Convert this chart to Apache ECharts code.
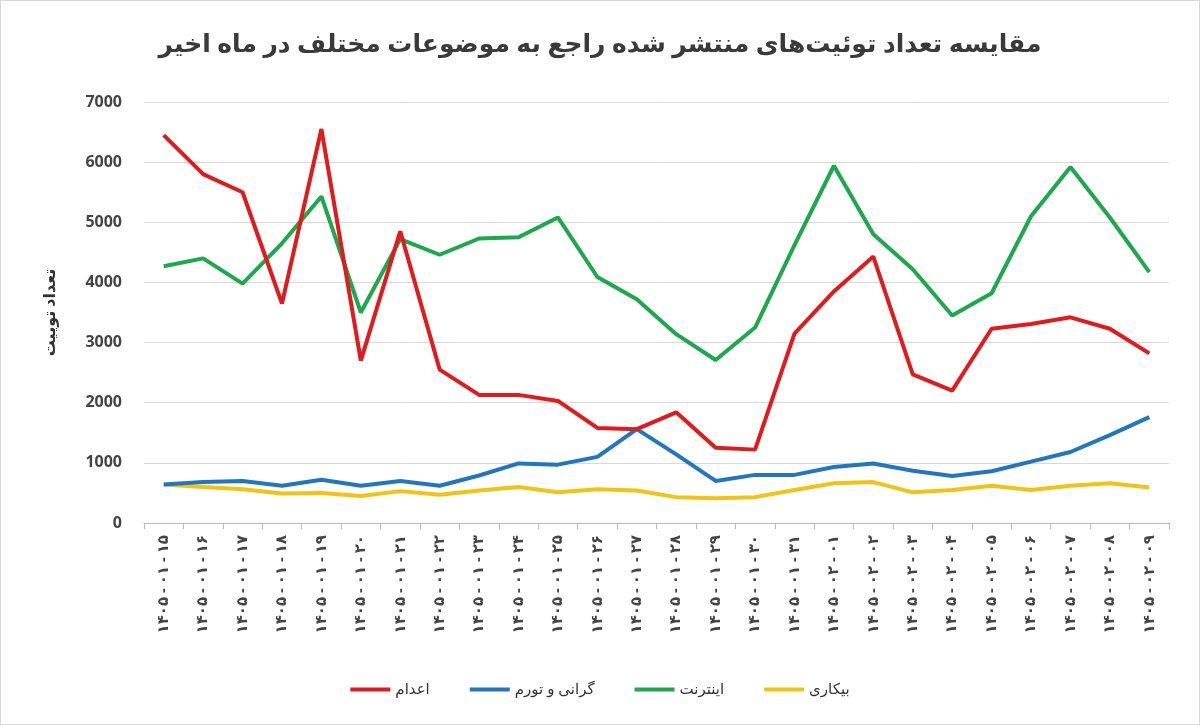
<!DOCTYPE html><html><head><meta charset="utf-8"><script src="https://cdn.jsdelivr.net/npm/echarts@6/dist/echarts.min.js"></script>
<style>html,body{margin:0;background:#fff}#c{width:1200px;height:725px;box-sizing:border-box;border:1px solid #d9d9d9}</style></head><body><div id="c"></div><script>
const days=['۱۵','۱۶','۱۷','۱۸','۱۹','۲۰','۲۱','۲۲','۲۳','۲۴','۲۵','۲۶','۲۷','۲۸','۲۹','۳۰','۳۱'];
const days2=['۰۱','۰۲','۰۳','۰۴','۰۵','۰۶','۰۷','۰۸','۰۹'];
const categories=days.map(d=>'۱۴۰۵-۰۱-'+d).concat(days2.map(d=>'۱۴۰۵-۰۲-'+d));
const executions=[6450,5800,5500,3650,6550,2700,4850,2550,2130,2130,2030,1580,1560,1840,1250,1220,3150,3850,4430,2470,2200,3230,3310,3420,3230,2820];
const inflation=[640,680,700,620,720,620,700,620,790,990,970,1100,1560,1140,700,800,800,930,990,870,780,860,1020,1180,1460,1760];
const internet=[4270,4400,3980,4650,5430,3500,4720,4460,4730,4750,5080,4090,3720,3140,2710,3250,4620,5940,4800,4220,3450,3820,5100,5920,5080,4170];
const unemployment=[640,600,560,490,500,450,530,470,540,600,510,560,540,430,410,430,550,660,680,510,550,620,550,620,660,590];
const names=['اعدام','گرانی و تورم','اینترنت','بیکاری'];
const colors=['#e31a1c','#1f77c4','#1aaa4b','#f2c40f'];
const F='"Noto Sans","DejaVu Sans",sans-serif';
const chart=echarts.init(document.getElementById('c'));
chart.setOption({
 title:{text:'مقایسه تعداد توئیت‌های منتشر شده راجع به موضوعات مختلف در ماه اخیر',left:'center',top:26,textStyle:{fontFamily:F,fontSize:25,fontWeight:'bold',color:'#3a3a3a'}},
 legend:{bottom:22,itemWidth:40,itemHeight:4,itemGap:40,icon:'rect',textStyle:{fontFamily:F,fontSize:15,color:'#333'},data:names},
 grid:{left:143,right:30,top:101,bottom:201},
 xAxis:{type:'category',data:categories,boundaryGap:true,axisLine:{lineStyle:{color:'#bbb'}},axisTick:{show:true,length:6,lineStyle:{color:'#bbb'}},axisLabel:{rotate:90,interval:0,fontFamily:F,fontSize:15,fontWeight:'bold',color:'#444',margin:12,formatter:v=>v.split('-').join(' - ')}},
 yAxis:{type:'value',min:0,max:7000,interval:1000,name:'تعداد توییت',nameLocation:'middle',nameGap:86,nameRotate:90,nameTextStyle:{fontFamily:F,fontSize:16,fontWeight:'bold',color:'#333'},axisLabel:{fontFamily:F,fontSize:16,fontWeight:'bold',color:'#444',margin:22,formatter:v=>String(v)},splitLine:{lineStyle:{color:'#d9d9d9'}},axisLine:{show:false},axisTick:{show:false}},
 series:[executions,inflation,internet,unemployment].map((d,i)=>({name:names[i],type:'line',data:d,showSymbol:false,lineStyle:{width:4,color:colors[i]},itemStyle:{color:colors[i]},z:[4,3,2,1][i]}))
});
</script></body></html>
